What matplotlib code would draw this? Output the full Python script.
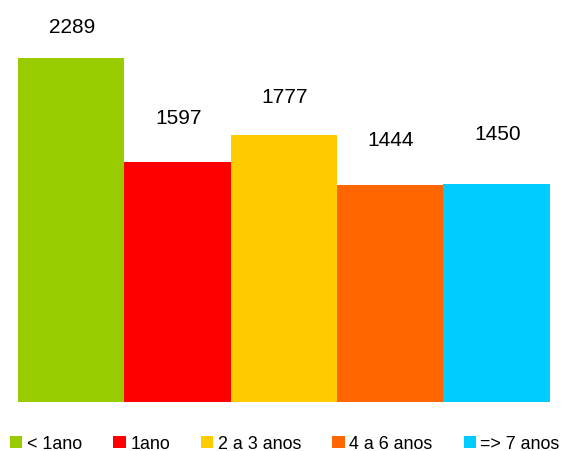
import matplotlib
matplotlib.use("Agg")
import matplotlib.pyplot as plt
from matplotlib.patches import Patch

plt.rcParams['font.family'] = ['Liberation Sans', 'DejaVu Sans']

categories = ["< 1ano", "1ano", "2 a 3 anos", "4 a 6 anos", "=> 7 anos"]
values = [2289, 1597, 1777, 1444, 1450]
colors = ["#99CC00", "#FF0000", "#FFCC00", "#FF6600", "#00CCFF"]
# label offsets above bar tops (pixels), as placed in the original
label_offsets = [32, 45, 38, 46, 51]

W, H = 563, 452
fig = plt.figure(figsize=(W / 100, H / 100), dpi=100)
ax = fig.add_axes([18 / W, (H - 403) / H, 531.5 / W, 403 / H])

x = list(range(len(values)))
ax.bar(x, values, width=1.0, color=colors, edgecolor='none')
ax.set_xlim(-0.5, len(values) - 0.5)
ax.set_ylim(0, 2682)
ax.axis('off')

for xi, v, off in zip(x, values, label_offsets):
    ax.annotate(str(v), xy=(xi, v), xytext=(1, off), textcoords='offset pixels',
                ha='center', va='center', fontsize=15, color='black')

fs = 12.9
em = fs * 100 / 72
handles = [Patch(facecolor=c, edgecolor='none') for c in colors]
fig.legend(handles, categories, loc='center left', bbox_to_anchor=(10 / W, 1 - 445 / H),
           ncol=5, frameon=False, fontsize=fs, handlelength=12.5 / em, handleheight=12.5 / em,
           handletextpad=4.5 / em, columnspacing=31 / em, borderpad=0, borderaxespad=0)

fig.savefig("out.png", dpi=100)
